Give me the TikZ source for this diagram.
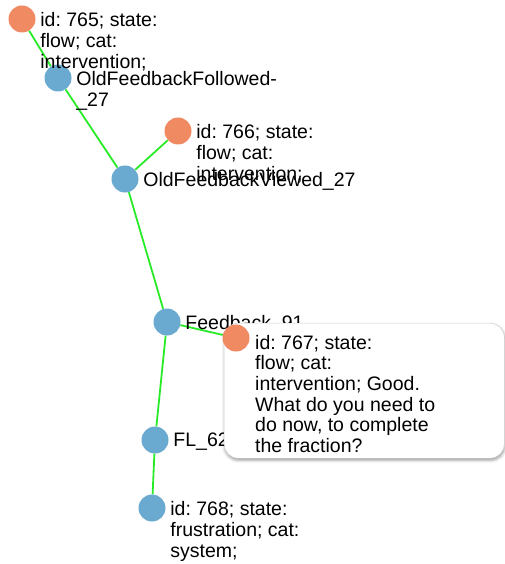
\documentclass[tikz,border=0pt]{standalone}
\usepackage{fontspec}
\setmainfont{Liberation Sans}
\frenchspacing
\usetikzlibrary{backgrounds,shadows.blur}
\definecolor{nodeorange}{RGB}{240,138,98}
\definecolor{nodeblue}{RGB}{106,170,208}
\definecolor{linkgreen}{RGB}{40,235,40}
\tikzset{
  dot/.style={circle,minimum size=27pt,inner sep=0pt},
  actdot/.style={dot,fill=nodeorange},
  stepdot/.style={dot,fill=nodeblue},
  lbl/.style={anchor=north west,align=left,inner sep=0pt,
    font=\fontsize{19.5}{21.3}\selectfont},
  link/.style={draw=linkgreen,line width=1.8pt},
  tipbox/.style={draw=black!20,fill=white,rounded corners=14pt,
    anchor=north west,minimum width=280pt,minimum height=135pt,
    blur shadow={shadow xshift=0.5pt,shadow yshift=-2pt,
      shadow blur radius=3pt,shadow opacity=40}}
}
\begin{document}
\begin{tikzpicture}[x=1pt,y=-1pt]
\useasboundingbox (0,0) rectangle (504,564);
\node[actdot] (n765) at (22,19) {};
\node[stepdot] (off) at (58,78) {};
\node[actdot] (n766) at (178,131) {};
\node[stepdot] (ofv) at (125,179) {};
\node[stepdot] (fb) at (167,322) {};
\node[stepdot] (fl) at (155,440) {};
\node[stepdot] (n768) at (152,508) {};
\node[lbl] (l765) at ([xshift=4.5pt,yshift=7pt]n765.east) {id: 765; state:\\flow; cat:\\intervention;};
\node[lbl] (loff) at ([xshift=4.5pt,yshift=7pt]off.east) {OldFeedbackFollowed-\\\_27};
\node[lbl] (l766) at ([xshift=4.5pt,yshift=7pt]n766.east) {id: 766; state:\\flow; cat:\\intervention;};
\node[lbl] (lofv) at ([xshift=4.5pt,yshift=7pt]ofv.east) {OldFeedbackViewed\_27};
\node[lbl] (lfb) at ([xshift=4.5pt,yshift=7pt]fb.east) {Feedback\_91};
\node[lbl] (lfl) at ([xshift=4.5pt,yshift=7pt]fl.east) {FL\_62};
\node[lbl] (l768) at ([xshift=4.5pt,yshift=7pt]n768.east) {id: 768; state:\\frustration; cat:\\system;};
\node[tipbox] (tip) at (224,323) {};
\node[actdot] (n767) at (236,338) {};
\node[lbl,font=\fontsize{19.5}{20.6}\selectfont] (l767) at (255,335) {id: 767; state:\\flow; cat:\\intervention; Good.\\What do you need to\\do now, to complete\\the fraction?};
\begin{scope}[on background layer]
\draw[link] (n765)--(off);
\draw[link] (off)--(ofv);
\draw[link] (ofv)--(n766);
\draw[link] (ofv)--(fb);
\draw[link] (fb)--(n767);
\draw[link] (fb)--(fl);
\draw[link] (fl)--(n768);
\end{scope}
\end{tikzpicture}
\end{document}
